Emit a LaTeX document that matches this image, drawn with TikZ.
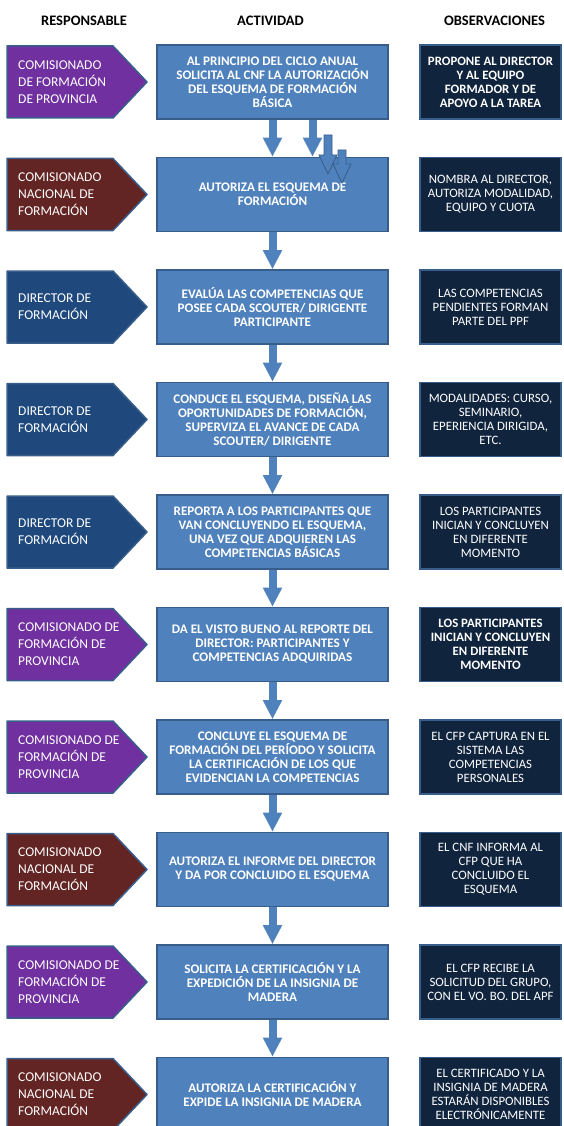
\documentclass[tikz,border=0pt]{standalone}
\usepackage{fontspec}
\setmainfont{Carlito}
\usetikzlibrary{arrows.meta, positioning}

\definecolor{actfill}{HTML}{4F81BD}
\definecolor{edgeblue}{HTML}{385D8A}
\definecolor{obsfill}{HTML}{10243E}
\definecolor{cfppurple}{HTML}{7030A0}
\definecolor{cnfred}{HTML}{632523}
\definecolor{dirblue}{HTML}{1F497D}

\tikzset{
  head/.style={font=\bfseries\fontsize{14.5}{16}\selectfont},
  resp/.style={text=white, align=left, anchor=west, inner sep=0pt,
    font=\fontsize{13.5}{17}\selectfont},
  pentagon/.style={draw=edgeblue, line width=1.5pt, line join=round},
  act/.style={rectangle, fill=actfill, draw=edgeblue, line width=1.6pt,
    minimum width=231pt, minimum height=74pt, text=white, align=center,
    inner sep=2pt, font=\bfseries\fontsize{13.1}{14}\selectfont},
  obs/.style={rectangle, fill=obsfill, draw=edgeblue, line width=1.2pt,
    minimum width=141pt, minimum height=74pt, text=white, align=center,
    inner sep=1pt, font=\fontsize{12.8}{14}\selectfont},
  flow/.style={actfill, line width=8pt, -{Triangle[width=18pt, length=19pt]}},
  stray/.style={fill=actfill, draw=edgeblue, line width=0.8pt, line join=miter}
}

\begin{document}
\begin{tikzpicture}[x=1pt, y=-1pt]
  \clip (0,0) rectangle (563,1126);
  % Column titles
  \node[head] (hresp) at (84,21) {RESPONSABLE};
  \node[head] (hact) at (270.5,21) {ACTIVIDAD};
  \node[head] (hobs) at (494.5,21) {OBSERVACIONES};
  % Responsible arrows
  \foreach \y/\c in {82/cfppurple, 194.5/cnfred, 307/dirblue, 419.5/dirblue,
      532/dirblue, 644.5/cfppurple, 757/cfppurple, 869.5/cnfred,
      982/cfppurple, 1094.5/cnfred}
    \draw[pentagon, fill=\c] (7,\y-36) -- (113,\y-36) -- (147,\y)
      -- (113,\y+36) -- (7,\y+36) -- cycle;
  \node[resp] (r1) at (18,82) {COMISIONADO\\DE FORMACIÓN\\DE PROVINCIA};
  \node[resp] (r2) at (18,194.5) {COMISIONADO\\NACIONAL DE\\FORMACIÓN};
  \node[resp] (r3) at (18,307) {DIRECTOR DE\\FORMACIÓN};
  \node[resp] (r4) at (18,419.5) {DIRECTOR DE\\FORMACIÓN};
  \node[resp] (r5) at (18,532) {DIRECTOR DE\\FORMACIÓN};
  \node[resp] (r6) at (18,644.5) {COMISIONADO DE\\FORMACIÓN DE\\PROVINCIA};
  \node[resp] (r7) at (18,757) {COMISIONADO DE\\FORMACIÓN DE\\PROVINCIA};
  \node[resp] (r8) at (18,869.5) {COMISIONADO\\NACIONAL DE\\FORMACIÓN};
  \node[resp] (r9) at (18,982) {COMISIONADO DE\\FORMACIÓN DE\\PROVINCIA};
  \node[resp] (r10) at (18,1094.5) {COMISIONADO\\NACIONAL DE\\FORMACIÓN};
  % Activities
  \node[act] (a1) at (272.5,82) {AL PRINCIPIO DEL CICLO ANUAL\\SOLICITA AL CNF LA AUTORIZACIÓN\\DEL ESQUEMA DE FORMACIÓN\\BÁSICA};
  \node[act] (a2) at (272.5,194.5) {AUTORIZA EL ESQUEMA DE\\FORMACIÓN};
  \node[act] (a3) at (272.5,307) {EVALÚA LAS COMPETENCIAS QUE\\POSEE CADA SCOUTER/ DIRIGENTE\\PARTICIPANTE};
  \node[act] (a4) at (272.5,419.5) {CONDUCE EL ESQUEMA, DISEÑA LAS\\OPORTUNIDADES DE FORMACIÓN,\\SUPERVIZA EL AVANCE DE CADA\\SCOUTER/ DIRIGENTE};
  \node[act] (a5) at (272.5,532) {REPORTA A LOS PARTICIPANTES QUE\\VAN CONCLUYENDO EL ESQUEMA,\\UNA VEZ QUE ADQUIEREN LAS\\COMPETENCIAS BÁSICAS};
  \node[act] (a6) at (272.5,644.5) {DA EL VISTO BUENO AL REPORTE DEL\\DIRECTOR: PARTICIPANTES Y\\COMPETENCIAS ADQUIRIDAS};
  \node[act] (a7) at (272.5,757) {CONCLUYE EL ESQUEMA DE\\FORMACIÓN DEL PERÍODO Y SOLICITA\\LA CERTIFICACIÓN DE LOS QUE\\EVIDENCIAN LA COMPETENCIAS};
  \node[act] (a8) at (272.5,869.5) {AUTORIZA EL INFORME DEL DIRECTOR\\Y DA POR CONCLUIDO EL ESQUEMA};
  \node[act] (a9) at (272.5,982) {SOLICITA LA CERTIFICACIÓN Y LA\\EXPEDICIÓN DE LA INSIGNIA DE\\MADERA};
  \node[act] (a10) at (272.5,1094.5) {AUTORIZA LA CERTIFICACIÓN Y\\EXPIDE LA INSIGNIA DE MADERA};
  % Remarks
  \node[obs] (o1) at (490.5,82) {\bfseries PROPONE AL DIRECTOR\\\bfseries Y AL EQUIPO\\\bfseries FORMADOR Y DE\\\bfseries APOYO A LA TAREA};
  \node[obs] (o2) at (490.5,194.5) {NOMBRA AL DIRECTOR,\\AUTORIZA MODALIDAD,\\EQUIPO Y CUOTA};
  \node[obs] (o3) at (490.5,307) {LAS COMPETENCIAS\\PENDIENTES FORMAN\\PARTE DEL PPF};
  \node[obs] (o4) at (490.5,419.5) {MODALIDADES: CURSO,\\SEMINARIO,\\EPERIENCIA DIRIGIDA,\\ETC.};
  \node[obs] (o5) at (490.5,532) {LOS PARTICIPANTES\\INICIAN Y CONCLUYEN\\EN DIFERENTE\\MOMENTO};
  \node[obs] (o6) at (490.5,644.5) {\bfseries LOS PARTICIPANTES\\\bfseries INICIAN Y CONCLUYEN\\\bfseries EN DIFERENTE\\\bfseries MOMENTO};
  \node[obs] (o7) at (490.5,757) {EL CFP CAPTURA EN EL\\SISTEMA LAS\\COMPETENCIAS\\PERSONALES};
  \node[obs] (o8) at (490.5,869.5) {EL CNF INFORMA AL\\CFP QUE HA\\CONCLUIDO EL\\ESQUEMA};
  \node[obs] (o9) at (490.5,982) {EL CFP RECIBE LA\\SOLICITUD DEL GRUPO,\\CON EL VO. BO. DEL APF};
  \node[obs] (o10) at (490.5,1094.5) {EL CERTIFICADO Y LA\\INSIGNIA DE MADERA\\ESTARÁN DISPONIBLES\\ELECTRÓNICAMENTE};
  % Flow between activities
  \foreach \i [evaluate=\i as \j using int(\i+1)] in {1,...,9}
    \draw[flow] (a\i.south) -- (a\j.north);
  \draw[flow] ([xshift=40pt]a1.south) -- ([xshift=40pt]a2.north);
  % Loose arrows over the second box
  \coordinate (s1) at (328,135);
  \coordinate (e1) at (328,174);
  \coordinate (s2) at (342,150);
  \coordinate (e2) at (342,183);
  \foreach \s/\e in {s1/e1, s2/e2}
    \draw[stray] ([xshift=-4pt]\s) -- ([xshift=4pt]\s)
      -- ([xshift=4pt, yshift=19pt]\e) -- ([xshift=9pt, yshift=19pt]\e)
      -- (\e) -- ([xshift=-9pt, yshift=19pt]\e)
      -- ([xshift=-4pt, yshift=19pt]\e) -- cycle;
\end{tikzpicture}
\end{document}
